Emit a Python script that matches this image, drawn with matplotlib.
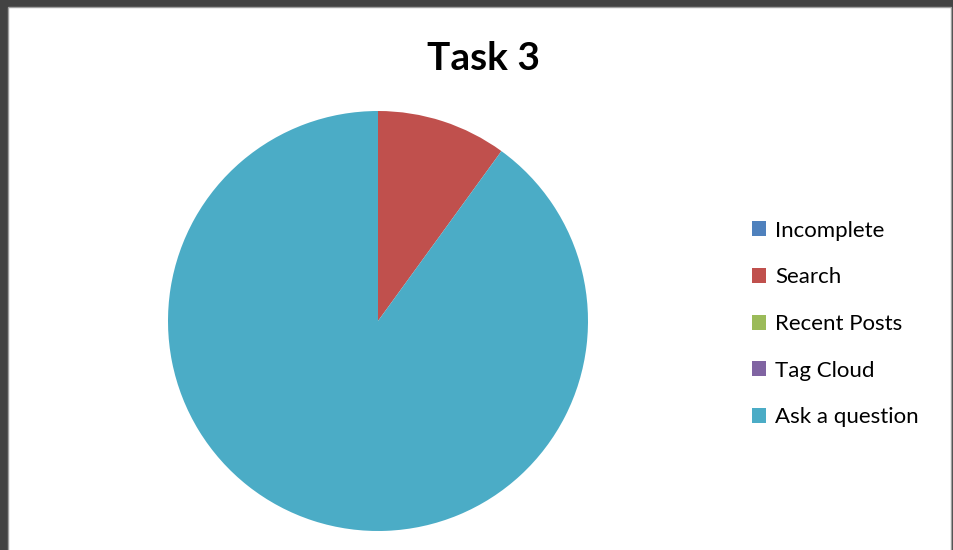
import matplotlib
matplotlib.use("Agg")
import matplotlib.pyplot as plt
from matplotlib.patches import Rectangle, Patch

categories = ["Incomplete", "Search", "Recent Posts", "Tag Cloud", "Ask a question"]
values = [0, 1, 0, 0, 9]
colors = ["#4F81BD", "#C0504D", "#9BBB59", "#8064A2", "#4BACC6"]
title = "Task 3"

W, H = 954, 550
fig = plt.figure(figsize=(W / 100, H / 100), dpi=100)
fig.patch.set_facecolor("#434343")

# white chart area
fig.add_artist(Rectangle((8 / W, -0.02), (951 - 8) / W, (H - 7) / H + 0.02,
                         transform=fig.transFigure, facecolor="white",
                         edgecolor="#a0a0a0", linewidth=1.0, zorder=0))

cx, cy, r = 378, 321, 210
ax = fig.add_axes([(cx - r) / W, (H - cy - r) / H, 2 * r / W, 2 * r / H])
wedges, _ = ax.pie(values, colors=colors, startangle=90, counterclock=False,
                   radius=1.0, wedgeprops=dict(linewidth=0))
ax.set_xlim(-1, 1)
ax.set_ylim(-1, 1)
ax.set_aspect("equal")
ax.axis("off")

fig.text(484 / W, 1 - 58 / H, title, ha="center", va="center",
         fontsize=28, fontweight="bold", family=["Lato", "DejaVu Sans"])

handles = [Patch(facecolor=c, edgecolor="none") for c in colors]
leg = fig.legend(handles, categories, loc="center left",
                 bbox_to_anchor=(734 / W, 1 - 324 / H), frameon=False,
                 prop=dict(family=["Lato", "DejaVu Sans"], size=16),
                 handlelength=0.65, handleheight=0.65, handletextpad=0.4,
                 labelspacing=1.2, borderpad=0.3)

fig.savefig("out.png", dpi=100, facecolor=fig.get_facecolor())
